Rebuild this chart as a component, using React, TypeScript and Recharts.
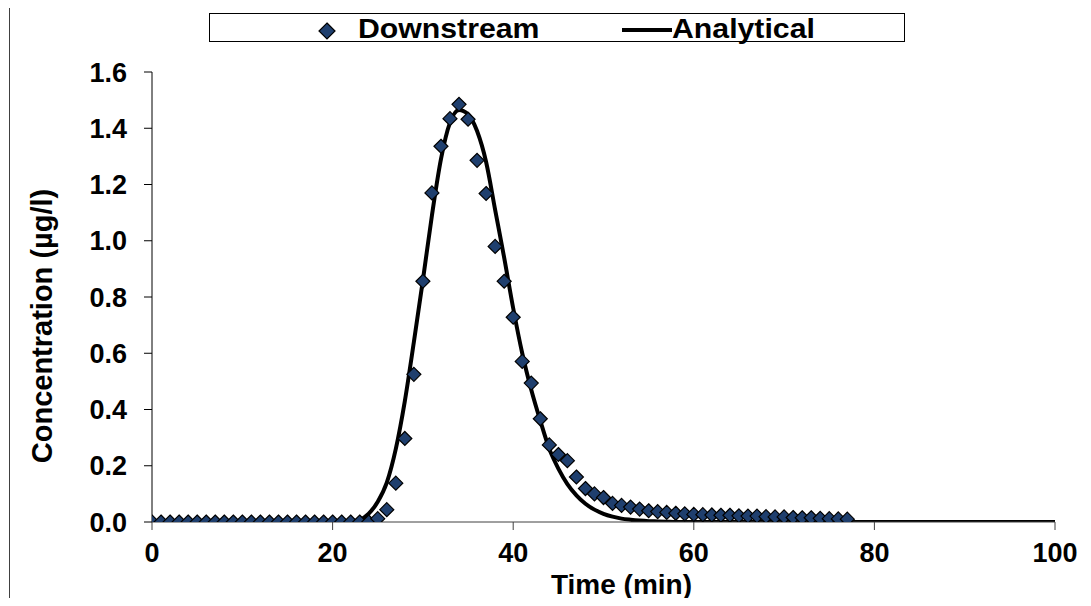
import React from "react";
import { ComposedChart, Line, Scatter, XAxis, YAxis, Legend } from "recharts";

const downstreamTime = [
  0, 1, 2, 3, 4, 5, 6, 7, 8, 9, 10, 11, 12, 13, 14, 15, 16, 17, 18, 19, 20, 21, 22, 23, 24,
  25, 26, 27, 28, 29, 30, 31, 32, 33, 34, 35, 36, 37, 38, 39, 40, 41, 42, 43, 44, 45, 46, 47, 48, 49,
  50, 51, 52, 53, 54, 55, 56, 57, 58, 59, 60, 61, 62, 63, 64, 65, 66, 67, 68, 69, 70, 71, 72, 73, 74,
  75, 76, 77,
];
const downstreamConc = [
  0, 0, 0, 0, 0, 0, 0, 0, 0, 0, 0, 0, 0, 0, 0, 0, 0, 0, 0, 0, 0, 0, 0, 0, 0,
  0.012, 0.044, 0.138, 0.297, 0.525, 0.856, 1.17, 1.336, 1.434, 1.485, 1.432, 1.286, 1.168, 0.98, 0.856,
  0.728, 0.571, 0.494, 0.367, 0.274, 0.24, 0.218, 0.16, 0.119, 0.1,
  0.087, 0.066, 0.059, 0.053, 0.046, 0.04, 0.037, 0.034, 0.031, 0.029, 0.027, 0.026, 0.025, 0.024, 0.024,
  0.022, 0.021, 0.021, 0.019, 0.018, 0.018, 0.016, 0.015, 0.015, 0.013, 0.012, 0.011, 0.01,
];

const analyticalTime = [
  0, 5, 10, 15, 20, 21, 22, 23, 24, 25, 26, 27, 28, 29, 30, 31, 32, 33, 34, 35, 36, 37, 38, 39, 40,
  41, 42, 43, 44, 45, 46, 47, 48, 49, 50, 51, 52, 53, 54, 55, 56, 57, 58, 60, 65, 70, 80, 90, 100,
];
const analyticalConc = [
  0, 0, 0, 0, 0, 0, 0.002, 0.008, 0.03, 0.072, 0.14, 0.26, 0.43, 0.64, 0.86, 1.09, 1.29, 1.42, 1.465,
  1.45, 1.39, 1.28, 1.11, 0.94, 0.76, 0.6, 0.47, 0.36, 0.26, 0.19, 0.135, 0.095, 0.065, 0.044, 0.029,
  0.019, 0.012, 0.008, 0.005, 0.003, 0.002, 0.001, 0, 0, 0, 0, 0, 0, 0,
];

const xTicks = [0, 20, 40, 60, 80, 100];
const yTicks = [0, 0.2, 0.4, 0.6, 0.8, 1.0, 1.2, 1.4, 1.6];

const downstreamData = downstreamTime.map((t, i) => ({ t, c: downstreamConc[i] }));
const analyticalData = analyticalTime.map((t, i) => ({ t, c: analyticalConc[i] }));

const FONT = "'Liberation Sans', Arial, sans-serif";
const MARKER_FILL = "#1F3F6E";

const Diamond = (props: any) => {
  const { cx, cy } = props;
  if (cx == null || cy == null) return null;
  const r = 7;
  return (
    <polygon
      points={`${cx},${cy - r} ${cx + r},${cy} ${cx},${cy + r} ${cx - r},${cy}`}
      fill={MARKER_FILL}
      stroke="#000"
      strokeWidth={1.2}
    />
  );
};

const XTitle = (props: any) => {
  const vb = props.viewBox || { x: 152, y: 522, width: 903, height: 84 };
  return (
    <text
      x={vb.x + vb.width / 2 + 18}
      y={vb.y + 72}
      textAnchor="middle"
      fill="#000"
      fontSize={28}
      fontWeight="bold"
      fontFamily={FONT}
    >
      Time (min)
    </text>
  );
};

const YTitle = (props: any) => {
  const vb = props.viewBox || { x: 0, y: 72, width: 152, height: 450 };
  const x = vb.x + 52;
  const y = vb.y + vb.height / 2 + 29;
  return (
    <text
      x={x}
      y={y}
      transform={`rotate(-90, ${x}, ${y})`}
      textAnchor="middle"
      fill="#000"
      fontSize={29}
      fontWeight="bold"
      fontFamily={FONT}
    >
      Concentration (µg/l)
    </text>
  );
};

const legendText: React.CSSProperties = {
  position: "absolute",
  top: 1,
  lineHeight: "28px",
  transform: "scaleX(1.08)",
  transformOrigin: "left center",
};

const LegendBox = () => (
  <div
    style={{
      position: "relative",
      width: "100%",
      height: "100%",
      fontFamily: FONT,
      fontWeight: "bold",
      fontSize: 28,
      color: "#000",
      whiteSpace: "nowrap",
    }}
  >
    <svg style={{ position: "absolute", left: 107, top: 7 }} width={20} height={20}>
      <polygon points="10,2 18,10 10,18 2,10" fill={MARKER_FILL} stroke="#000" strokeWidth={1.2} />
    </svg>
    <span style={{ ...legendText, left: 148 }}>Downstream</span>
    <svg style={{ position: "absolute", left: 412, top: 13 }} width={50} height={6}>
      <line x1={0} y1={3} x2={50} y2={3} stroke="#000" strokeWidth={4} />
    </svg>
    <span style={{ ...legendText, left: 462 }}>Analytical</span>
  </div>
);

export default function App() {
  return (
    <div
      style={{
        position: "relative",
        width: 1091,
        height: 606,
        margin: -8,
        overflow: "hidden",
        background: "#fff",
      }}
    >
      <div
        style={{
          position: "absolute",
          left: 9,
          top: 5,
          width: 1200,
          height: 700,
          border: "1px solid #404040",
        }}
      />
      <ComposedChart
        width={1091}
        height={606}
        margin={{ top: 72, right: 36, bottom: 0, left: 0 }}
        style={{ position: "absolute", left: 0, top: 0 }}
      >
        <XAxis
          dataKey="t"
          type="number"
          domain={[0, 100]}
          ticks={xTicks}
          allowDataOverflow
          height={84}
          tickSize={8}
          tickMargin={13}
          axisLine={{ stroke: "#404040", strokeWidth: 1 }}
          tickLine={{ stroke: "#404040", strokeWidth: 1 }}
          tick={{ fill: "#000", fontSize: 27, fontWeight: "bold", fontFamily: FONT }}
          label={{ content: XTitle }}
        />
        <YAxis
          type="number"
          domain={[0, 1.6]}
          ticks={yTicks}
          allowDataOverflow
          width={152}
          tickSize={8}
          tickMargin={17}
          axisLine={{ stroke: "#000", strokeWidth: 1 }}
          tickLine={{ stroke: "#000", strokeWidth: 1 }}
          tickFormatter={(v: number) => v.toFixed(1)}
          tick={{ fill: "#000", fontSize: 27, fontWeight: "bold", fontFamily: FONT }}
          label={{ content: YTitle }}
        />
        <Legend
          verticalAlign="middle"
          align="center"
          layout="horizontal"
          content={() => <LegendBox />}
          wrapperStyle={{
            position: "absolute",
            left: 209,
            top: 13,
            width: 696,
            height: 29,
            border: "1px solid #000",
            boxSizing: "border-box",
            background: "#fff",
          }}
        />
        <Line
          data={analyticalData}
          dataKey="c"
          name="Analytical"
          type="monotone"
          stroke="#000"
          strokeWidth={4}
          dot={false}
          activeDot={false}
          isAnimationActive={false}
        />
        <Scatter
          data={downstreamData}
          dataKey="c"
          name="Downstream"
          shape={Diamond}
          isAnimationActive={false}
        />
      </ComposedChart>
    </div>
  );
}
